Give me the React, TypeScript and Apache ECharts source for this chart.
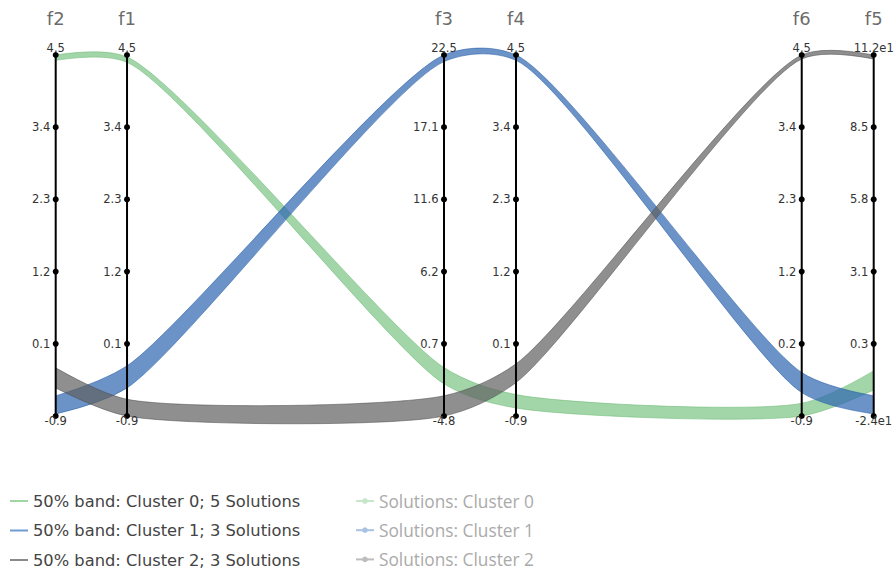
import React, { useEffect, useRef } from 'react';
import * as echarts from 'echarts';

// ---------- data ----------
const AXIS_NAMES = ['f2', 'f1', 'f3', 'f4', 'f6', 'f5'];
const AXIS_MIN = [-0.9, -0.9, -4.8, -0.9, -0.9, -24];
const AXIS_MAX = [4.5, 4.5, 22.5, 4.5, 4.5, 112];

const TICKS_F2 = ['-0.9', '0.1', '1.2', '2.3', '3.4', '4.5'];
const TICKS_F1 = ['-0.9', '0.1', '1.2', '2.3', '3.4', '4.5'];
const TICKS_F3 = ['-4.8', '0.7', '6.2', '11.6', '17.1', '22.5'];
const TICKS_F4 = ['-0.9', '0.1', '1.2', '2.3', '3.4', '4.5'];
const TICKS_F6 = ['-0.9', '0.2', '1.2', '2.3', '3.4', '4.5'];
const TICKS_F5 = ['-2.4e1', '0.3', '3.1', '5.8', '8.5', '11.2e1'];
const TICK_LABELS = [TICKS_F2, TICKS_F1, TICKS_F3, TICKS_F4, TICKS_F6, TICKS_F5];

const BAND_NAMES = [
  '50% band: Cluster 0; 5 Solutions',
  '50% band: Cluster 1; 3 Solutions',
  '50% band: Cluster 2; 3 Solutions',
];
const SOLUTION_NAMES = ['Solutions: Cluster 0', 'Solutions: Cluster 1', 'Solutions: Cluster 2'];

// 50% band lower / upper values per axis (order f2, f1, f3, f4, f6, f5)
const C0_LOWER = [4.42, 4.39, -2.37, -0.78, -0.9, -14.2];
const C0_UPPER = [4.5, 4.47, -1.14, -0.58, -0.71, -7.0];
const C1_LOWER = [-0.87, -0.48, 22.0, 4.42, -0.55, -23.2];
const C1_UPPER = [-0.6, -0.15, 22.5, 4.5, -0.25, -16.4];
const C2_LOWER = [-0.48, -0.9, -4.8, -0.4, 4.44, 110.5];
const C2_UPPER = [-0.18, -0.65, -3.27, -0.12, 4.5, 112];
const BANDS_LOWER = [C0_LOWER, C1_LOWER, C2_LOWER];
const BANDS_UPPER = [C0_UPPER, C1_UPPER, C2_UPPER];

// ---------- layout / style ----------
const AXIS_POS = [0, 0.0872, 0.4747, 0.5627, 0.912, 1];
const SMOOTHING = 0.75;
const BAND_FILL = ['rgba(123,196,131,0.7)', 'rgba(44,101,176,0.7)', 'rgba(95,95,95,0.7)'];
const BAND_EDGE = ['rgba(110,185,118,0.55)', 'rgba(40,92,165,0.55)', 'rgba(80,80,80,0.55)'];
const BAND_LEGEND = ['#a0d6a6', '#6f9bd3', '#8a8a8a'];
const SOL_LEGEND = ['#c6e6c9', '#a9c2e4', '#bdbdbd'];
const FONT = 'DejaVu Sans';

function norm(v: number, i: number) {
  return (v - AXIS_MIN[i]) / (AXIS_MAX[i] - AXIS_MIN[i]);
}

function tangent(p0: number[], p1: number[], p2: number[], s: number) {
  const d1x = p0[0] - p1[0], d1y = p0[1] - p1[1];
  const d2x = p2[0] - p1[0], d2y = p2[1] - p1[1];
  const d1a = Math.pow(d1x * d1x + d1y * d1y, 0.25);
  const d2a = Math.pow(d2x * d2x + d2y * d2y, 0.25);
  const numx = (d2a * d2a * d1x - d1a * d1a * d2x) * s;
  const numy = (d2a * d2a * d1y - d1a * d1a * d2y) * s;
  const den1 = 3 * d2a * (d1a + d2a);
  const den2 = 3 * d1a * (d1a + d2a);
  return [
    [p1[0] + (den1 ? numx / den1 : 0), p1[1] + (den1 ? numy / den1 : 0)],
    [p1[0] - (den2 ? numx / den2 : 0), p1[1] - (den2 ? numy / den2 : 0)],
  ];
}

function smoothPath(pts: number[][], s: number, start: string) {
  const n = pts.length;
  const f = (p: number[]) => p[0].toFixed(2) + ' ' + p[1].toFixed(2);
  let d = start + f(pts[0]);
  const t: number[][][] = [];
  for (let i = 1; i < n - 1; i++) t.push(tangent(pts[i - 1], pts[i], pts[i + 1], s));
  d += ' Q' + f(t[0][0]) + ' ' + f(pts[1]);
  for (let i = 2; i < n - 1; i++) {
    d += ' C' + f(t[i - 2][1]) + ' ' + f(t[i - 1][0]) + ' ' + f(pts[i]);
  }
  d += ' Q' + f(t[n - 3][1]) + ' ' + f(pts[n - 1]);
  return d;
}

function makeBandRender(c: number) {
  return (params: any, api: any) => {
    if (params.dataIndexInside !== 0) return null;
    const up: number[][] = [];
    const lo: number[][] = [];
    for (let j = 0; j < AXIS_POS.length; j++) {
      const x = api.value(0, j);
      lo.push(api.coord([x, api.value(1, j)]));
      up.push(api.coord([x, api.value(2, j)]));
    }
    const upPath = smoothPath(up, SMOOTHING, 'M');
    const loPath = smoothPath(lo, SMOOTHING, 'M');
    const fillPath = upPath + ' ' + smoothPath(lo.slice().reverse(), SMOOTHING, 'L') + ' Z';
    return {
      type: 'group',
      children: [
        { type: 'path', shape: { pathData: fillPath }, style: { fill: BAND_FILL[c], stroke: 'none' } },
        { type: 'path', shape: { pathData: upPath }, style: { fill: 'none', stroke: BAND_EDGE[c], lineWidth: 1 } },
        { type: 'path', shape: { pathData: loPath }, style: { fill: 'none', stroke: BAND_EDGE[c], lineWidth: 1 } },
      ],
    };
  };
}

export default function App() {
  const ref = useRef<HTMLDivElement>(null);
  useEffect(() => {
    document.body.style.margin = '0';
    const chart = echarts.init(ref.current!, undefined, { renderer: 'svg' });

    const bandSeries = BAND_NAMES.map((name, c) => ({
      type: 'custom',
      name,
      silent: true,
      z: 2,
      itemStyle: { color: BAND_LEGEND[c] },
      encode: { x: 0, y: [1, 2] },
      data: AXIS_POS.map((p, i) => [p, norm(BANDS_LOWER[c][i], i), norm(BANDS_UPPER[c][i], i)]),
      renderItem: makeBandRender(c),
    }));

    const solutionSeries = SOLUTION_NAMES.map((name, c) => ({
      type: 'line',
      name,
      data: [],
      symbol: 'circle',
      symbolSize: 6,
      itemStyle: { color: SOL_LEGEND[c] },
      lineStyle: { color: SOL_LEGEND[c], width: 1.5 },
    }));

    const axisSeries = AXIS_NAMES.map((name, i) => {
      const ticks = TICK_LABELS[i];
      const last = ticks.length - 1;
      return {
        type: 'line',
        name: 'axis-' + name,
        silent: true,
        clip: false,
        z: 10,
        symbol: 'circle',
        symbolSize: 6,
        itemStyle: { color: '#000' },
        lineStyle: { color: '#000', width: 2 },
        label: {
          show: true,
          fontFamily: FONT,
          fontSize: 11.5,
          color: '#333',
          formatter: (p: any) => ticks[p.dataIndex],
        },
        data: ticks.map((t, k) => ({
          value: [AXIS_POS[i], k / last],
          label:
            k === last
              ? { position: 'top', distance: -2 }
              : k === 0
              ? { position: 'bottom', distance: -4 }
              : { position: 'left', distance: 2.5 },
        })),
      };
    });

    const titleSeries = {
      type: 'scatter',
      name: 'axis-titles',
      silent: true,
      z: 11,
      symbolSize: 1,
      itemStyle: { color: 'rgba(0,0,0,0)' },
      label: {
        show: true,
        position: 'top',
        distance: 27,
        formatter: '{b}',
        fontFamily: FONT,
        fontSize: 18,
        color: '#444',
      },
      data: AXIS_NAMES.map((name, i) => ({ name, value: [AXIS_POS[i], 1] })),
    };

    chart.setOption({
      animation: false,
      grid: { left: 55.7, right: 20.3, top: 55, bottom: 157 },
      xAxis: { type: 'value', min: 0, max: 1, show: false },
      yAxis: { type: 'value', min: 0, max: 1, show: false },
      legend: [
        {
          orient: 'vertical',
          left: 10,
          top: 493,
          height: 80,
          padding: 0,
          itemWidth: 18,
          itemHeight: 2,
          itemGap: 13.5,
          selectedMode: false,
          textStyle: { fontFamily: FONT, fontSize: 16.3, color: '#444' },
          data: BAND_NAMES.map((name, c) => ({ name, icon: 'rect', itemStyle: { color: BAND_LEGEND[c] } })),
        },
        {
          orient: 'vertical',
          left: 355,
          top: 492.5,
          height: 80,
          padding: 0,
          itemWidth: 18,
          itemHeight: 7,
          itemGap: 12.2,
          selectedMode: false,
          textStyle: { fontFamily: 'Open Sans', fontSize: 17.3, color: '#aaa' },
          data: SOLUTION_NAMES,
        },
      ],
      series: [...bandSeries, ...solutionSeries, ...axisSeries, titleSeries],
    });
    return () => chart.dispose();
  }, []);
  return <div ref={ref} style={{ width: 894, height: 573 }} />;
}
